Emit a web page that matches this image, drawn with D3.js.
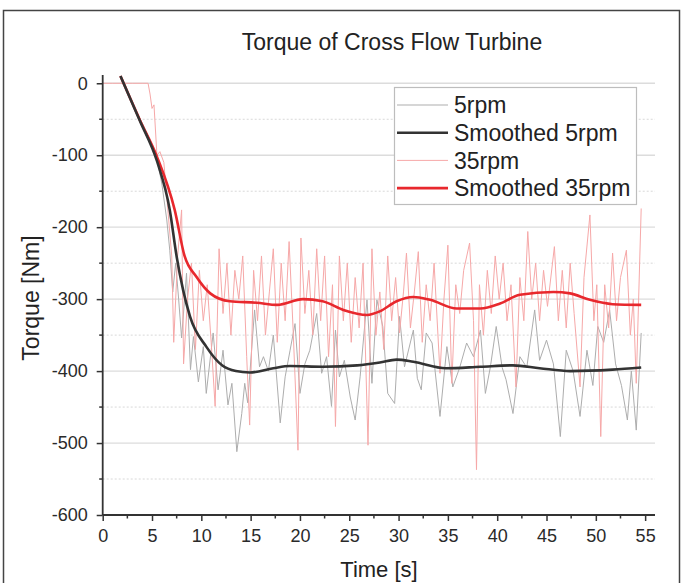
<!DOCTYPE html>
<html>
<head>
<meta charset="utf-8">
<script src="https://cdn.jsdelivr.net/npm/d3@7"></script>
<style>
  body { margin: 0; background: #fff; }
  svg { display: block; font-family: "Liberation Sans", Arial, sans-serif; }
</style>
</head>
<body>
<svg width="683" height="583"></svg>
<script>
// raw 5rpm torque
const t5 = [1.8, 3, 4, 5, 5.5, 6, 6.5, 6.8, 7.1, 7.4, 7.7, 8.0, 8.5, 8.9, 9.2, 9.7, 10.2, 10.5, 11.2, 11.7,
  12.2, 12.7, 13.1, 13.6, 14.1, 14.4, 14.7, 15.4, 15.9, 16.3, 16.8, 17.3, 18.0, 18.5, 19.0, 19.5, 20.0, 20.5,
  21.0, 21.7, 22.2, 22.7, 23.2, 23.6, 24.0, 24.5, 25.1, 25.6, 26.1, 26.8, 27.3, 27.8, 28.4, 28.9, 29.6, 30.1,
  30.6, 31.5, 31.9, 32.3, 32.8, 33.4, 34.2, 34.9, 35.5, 36.2, 36.9, 37.6, 38.3, 38.8, 39.3, 39.9, 40.5, 40.9,
  41.6, 42.3, 43.0, 43.8, 44.3, 45.0, 45.7, 46.4, 47.0, 47.7, 48.4, 49.1, 49.7, 50.2, 50.8, 51.4, 52.0, 52.6,
  53.2, 53.6, 54.1, 54.6];
const v5 = [10, -28, -55, -85, -105, -140, -190, -232, -290, -250, -300, -354, -264, -398, -352, -415, -366, -431, -347, -426,
  -371, -447, -417, -512, -459, -417, -444, -315, -394, -380, -400, -350, -472, -408, -371, -334, -431, -390,
  -371, -320, -403, -380, -449, -343, -408, -385, -436, -468, -408, -301, -417, -301, -338, -431, -445, -324,
  -394, -343, -410, -426, -347, -361, -463, -366, -422, -395, -361, -380, -343, -431, -395, -338, -395, -412,
  -459, -380, -395, -315, -385, -357, -390, -491, -371, -400, -463, -371, -420, -338, -360, -315, -390, -420,
  -468, -400, -482, -347];

// raw 35rpm torque
const t35 = [0, 1, 2, 3, 4, 4.6, 4.8, 5.0, 5.2, 5.5, 5.8, 6.2, 7.0, 7.2, 7.6, 8.0, 8.2, 8.6, 9.0, 9.4,
  9.8, 10.2, 10.6, 11.0, 11.4, 11.8, 12.2, 12.6, 13.0, 13.4, 13.8, 14.2, 14.6, 14.9, 15.3, 15.7, 16.1, 16.5,
  16.9, 17.3, 17.7, 18.1, 18.5, 18.9, 19.3, 19.8, 20.1, 20.5, 20.9, 21.3, 21.7, 22.1, 22.5, 22.9, 23.3, 23.6,
  24.0, 24.4, 24.8, 25.2, 25.6, 26.0, 26.4, 26.9, 27.3, 27.7, 28.1, 28.5, 28.9, 29.3, 29.7, 30.1, 30.5, 30.8,
  31.2, 31.6, 32.0, 32.4, 32.8, 33.2, 33.6, 34.2, 34.6, 35.0, 35.4, 35.8, 36.2, 36.6, 37.2, 37.6, 37.9, 38.2,
  38.6, 39.0, 39.4, 39.8, 40.2, 40.6, 41.0, 41.4, 41.9, 42.3, 42.7, 43.1, 43.5, 43.9, 44.3, 44.7, 45.1, 45.8,
  46.2, 46.6, 47.0, 47.4, 47.8, 48.4, 48.8, 49.4, 49.8, 50.1, 50.5, 50.9, 51.3, 51.7, 52.1, 52.5, 53.1, 53.5,
  53.8, 54.1, 54.6];
const v35 = [0, 0, 0, 0, 0, 0, -15, -35, -30, -100, -95, -110, -240, -360, -240, -176, -390, -300, -250, -370,
  -260, -330, -280, -360, -449, -230, -320, -250, -350, -260, -300, -240, -380, -475, -260, -330, -240, -350,
  -290, -230, -360, -250, -330, -220, -340, -510, -215, -320, -260, -350, -230, -330, -240, -380, -280, -477,
  -240, -330, -250, -360, -270, -340, -250, -503, -230, -350, -290, -370, -240, -330, -270, -347, -290, -236,
  -340, -290, -234, -360, -280, -330, -250, -403, -300, -225, -417, -280, -320, -260, -222, -330, -537, -280,
  -350, -260, -320, -240, -300, -250, -330, -280, -422, -270, -330, -206, -300, -250, -330, -260, -310, -227,
  -330, -260, -340, -250, -320, -422, -270, -183, -330, -280, -491, -280, -340, -236, -330, -270, -232, -350,
  -300, -417, -174];

// smoothed curves
const ts5 = [1.8, 3.8, 5.5, 6.8, 7.5, 8.85, 10.5, 12.1, 13.5, 14.9, 17.3, 19, 22.3, 25.8, 28.1, 29.8, 31.5,
  34.8, 38.3, 41.6, 44.3, 47.4, 51.7, 54.6];
const vs5 = [10, -53, -108, -176, -241, -324, -366, -392, -400, -402, -396, -393, -394, -392, -388, -384, -387,
  -396, -394, -392, -396, -400, -398, -395];
const ts35 = [1.8, 3.8, 5.5, 7.3, 8.3, 9.5, 10.9, 12.9, 15.6, 17.7, 20.3, 22.3, 24.4, 26.8, 28.1, 29.8, 31.5,
  33.2, 35.9, 38.3, 40.3, 42.3, 45.7, 47.4, 49.4, 51.7, 54.6];
const vs35 = [10, -52, -102, -176, -240, -269, -292, -303, -305, -308, -300, -303, -315, -322, -317, -303, -297,
  -301, -313, -313, -306, -294, -290, -292, -301, -307, -308];

const xTicks = [0, 5, 10, 15, 20, 25, 30, 35, 40, 45, 50, 55];
const yTicks = [0, -100, -200, -300, -400, -500, -600];
const seriesNames = ["5rpm", "Smoothed 5rpm", "35rpm", "Smoothed 35rpm"];
const seriesColors = ["#adadad", "#333333", "#f6a8a8", "#e8282d"];
const seriesWidths = [1, 2.6, 1, 2.6];

const svg = d3.select("svg");

const x = d3.scaleLinear().domain([0, 56]).range([102.7, 655]);
const y = d3.scaleLinear().domain([-600, 11.5]).range([515, 75]);

// frame
svg.append("rect")
  .attr("x", 3.5).attr("y", 10.5)
  .attr("width", 676).attr("height", 590)
  .attr("fill", "none").attr("stroke", "#444").attr("stroke-width", 1.5);

// grid
const minorY = d3.range(-550, 0, 100);
svg.append("g").selectAll("line").data(minorY).join("line")
  .attr("x1", x(0)).attr("x2", x(56))
  .attr("y1", d => y(d)).attr("y2", d => y(d))
  .attr("stroke", "#d8d8d8").attr("stroke-dasharray", "2,2");
svg.append("g").selectAll("line").data(yTicks.filter(d => d > -600)).join("line")
  .attr("x1", x(0)).attr("x2", x(56))
  .attr("y1", d => y(d)).attr("y2", d => y(d))
  .attr("stroke", "#dcdcdc").attr("stroke-width", 1.3);

// lines
const line = d3.line().x(d => x(d[0])).y(d => y(d[1]));
const smooth = d3.line().x(d => x(d[0])).y(d => y(d[1])).curve(d3.curveMonotoneX);
const zip = (a, b) => a.map((t, i) => [t, b[i]]);

svg.append("path").datum(zip(t5, v5)).attr("d", line)
  .attr("fill", "none").attr("stroke", seriesColors[0]).attr("stroke-width", seriesWidths[0]);
svg.append("path").datum(zip(t35, v35)).attr("d", line)
  .attr("fill", "none").attr("stroke", seriesColors[2]).attr("stroke-width", seriesWidths[2]);
svg.append("path").datum(zip(ts35, vs35)).attr("d", smooth)
  .attr("fill", "none").attr("stroke", seriesColors[3]).attr("stroke-width", seriesWidths[3]);
svg.append("path").datum(zip(ts5, vs5)).attr("d", smooth)
  .attr("fill", "none").attr("stroke", seriesColors[1]).attr("stroke-width", seriesWidths[1]);

// axes
const xAxis = svg.append("g").attr("transform", `translate(0,${y(-600)})`)
  .call(d3.axisBottom(x).tickValues(xTicks).tickFormat(d => String(d)).tickSize(6).tickPadding(8));
xAxis.append("g").selectAll("line").data(d3.range(2.5, 56, 5)).join("line")
  .attr("x1", d => x(d)).attr("x2", d => x(d)).attr("y1", 0).attr("y2", 3.5)
  .attr("stroke", "#333").attr("stroke-width", 1.5);

const yAxis = svg.append("g").attr("transform", `translate(${x(0)},0)`)
  .call(d3.axisLeft(y).tickValues(yTicks).tickFormat(d => String(d)).tickSize(6).tickPadding(9));
yAxis.append("g").selectAll("line").data(minorY).join("line")
  .attr("x1", 0).attr("x2", -3.5).attr("y1", d => y(d)).attr("y2", d => y(d))
  .attr("stroke", "#333").attr("stroke-width", 1.5);

[xAxis, yAxis].forEach(g => {
  g.select(".domain").attr("stroke", "#333").attr("stroke-width", 1.8);
  g.selectAll(".tick line").attr("stroke", "#333").attr("stroke-width", 1.5);
  g.selectAll(".tick text").attr("font-size", 18).attr("fill", "#2a2a2a")
    .attr("font-family", "Liberation Sans, Arial, sans-serif");
});
xAxis.select(".domain").attr("d", `M${x(0)},0H${x(56)}`);
yAxis.select(".domain").attr("d", `M0,${y(11.5)}V${y(-600)}`);

// titles
svg.append("text").attr("x", 392).attr("y", 50).attr("text-anchor", "middle")
  .attr("font-size", 23).attr("fill", "#222").text("Torque of Cross Flow Turbine");
svg.append("text").attr("x", 379).attr("y", 577).attr("text-anchor", "middle")
  .attr("font-size", 22).attr("fill", "#222").text("Time [s]");
svg.append("text").attr("transform", "translate(39,298) rotate(-90)").attr("text-anchor", "middle")
  .attr("font-size", 23).attr("fill", "#222").text("Torque [Nm]");

// legend
const lg = svg.append("g");
lg.append("rect").attr("x", 394.5).attr("y", 87.5).attr("width", 242).attr("height", 117)
  .attr("fill", "#fff").attr("stroke", "#bdbdbd").attr("stroke-width", 1.2);
seriesNames.forEach((name, i) => {
  const yy = 105 + i * 27.7;
  lg.append("line").attr("x1", 397).attr("x2", 448).attr("y1", yy).attr("y2", yy)
    .attr("stroke", seriesColors[i]).attr("stroke-width", seriesWidths[i]);
  lg.append("text").attr("x", 454).attr("y", yy).attr("dy", "0.36em")
    .attr("font-size", 23).attr("fill", "#222").text(name);
});
</script>
</body>
</html>
